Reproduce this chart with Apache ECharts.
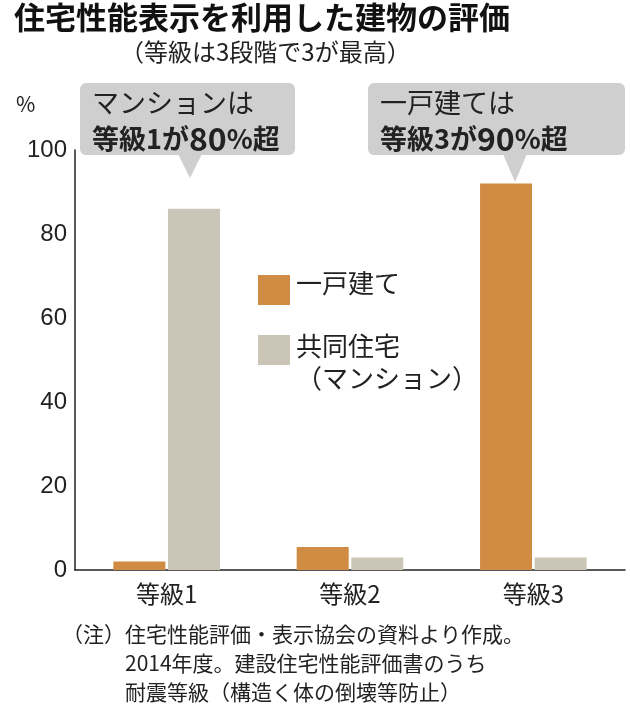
<!DOCTYPE html>
<html><head><meta charset="utf-8">
<script src="https://cdn.jsdelivr.net/npm/echarts@6/dist/echarts.min.js"></script>
<style>body{margin:0;background:#fff}#c{width:630px;height:727px}</style>
</head><body><div id="c"></div>
<script>
// data
var categories = ['等級1', '等級2', '等級3'];
var house = [2, 5.5, 92];      // 一戸建て
var condo = [86, 3, 3];        // 共同住宅（マンション）
var yTicks = [0, 20, 40, 60, 80, 100];

var FONT = '"Noto Sans CJK JP", sans-serif';
var myChart = echarts.init(document.getElementById('c'));

function callout(x, y, w, h, px, py, lines) {
    return [{
        type: 'polygon',
        shape: { points: [[px - 12, y + h - 1], [px + 12, y + h - 1], [px, py]] },
        style: { fill: '#cfcfcf' }
    }, {
        type: 'rect',
        shape: { x: x, y: y, width: w, height: h, r: 6 },
        style: { fill: '#cfcfcf' }
    }, {
        type: 'text', left: x + 12, top: y + 2,
        style: {
            text: lines, fontFamily: FONT, fill: '#222', lineHeight: 36,
            rich: {
                n: { fontSize: 27, fontFamily: FONT, fill: '#222' },
                b: { fontSize: 27, fontWeight: 'bold', fontFamily: FONT, fill: '#222' },
                big: { fontSize: 32, fontWeight: 'bold', fontFamily: FONT, fill: '#222' }
            }
        }
    }];
}

option = {
    animation: false,
    grid: { left: 75, right: 5, top: 150, bottom: 157 },
    xAxis: {
        type: 'category', data: categories,
        axisLine: { lineStyle: { color: '#222', width: 1.5 } },
        axisTick: { show: false },
        axisLabel: { fontSize: 24, color: '#222', fontFamily: FONT, margin: 12 }
    },
    yAxis: {
        type: 'value', min: 0, max: 100, interval: 20,
        axisLine: { show: true, lineStyle: { color: '#222', width: 1.5 } },
        axisTick: { show: false },
        splitLine: { show: false },
        axisLabel: { fontSize: 24, color: '#222', fontFamily: 'Liberation Sans', margin: 8 }
    },
    series: [
        { name: '一戸建て', type: 'bar', data: house, barWidth: 52, barGap: '5%', itemStyle: { color: '#d08c42' } },
        { name: '共同住宅', type: 'bar', data: condo, barWidth: 52, itemStyle: { color: '#cbc5b7' } }
    ],
    graphic: [
        { type: 'text', left: 14, top: 2, style: { text: '住宅性能表示を利用した建物の評価', fontSize: 31, fontWeight: 'bold', fontFamily: FONT, fill: '#111' } },
        { type: 'text', left: 120, top: 40, style: { text: '（等級は3段階で3が最高）', fontSize: 24, fontFamily: FONT, fill: '#222' } },
        { type: 'text', left: 16, top: 94, style: { text: '%', fontSize: 21, fontFamily: FONT, fill: '#222' } },
        { type: 'rect', shape: { x: 258, y: 275, width: 32, height: 30 }, style: { fill: '#d08c42' } },
        { type: 'text', left: 296, top: 270, style: { text: '一戸建て', fontSize: 26, fontFamily: FONT, fill: '#222' } },
        { type: 'rect', shape: { x: 258, y: 335, width: 32, height: 30 }, style: { fill: '#cbc5b7' } },
        { type: 'text', left: 296, top: 330, style: { text: '共同住宅\n（マンション）', fontSize: 26, lineHeight: 32, fontFamily: FONT, fill: '#222' } },
        { type: 'text', left: 62, top: 620, style: { text: '（注）住宅性能評価・表示協会の資料より作成。\n　　　2014年度。建設住宅性能評価書のうち\n　　　耐震等級（構造く体の倒壊等防止）', fontSize: 21, lineHeight: 29, fontFamily: FONT, fill: '#222' } }
    ]
        .concat(callout(80, 83, 215, 72, 190, 178, '{n|マンションは}\n{b|等級1が}{big|80}{b|%超}'))
        .concat(callout(368, 83, 257, 72, 515, 182, '{n|一戸建ては}\n{b|等級3が}{big|90}{b|%超}'))
};
myChart.setOption(option);
</script></body></html>
